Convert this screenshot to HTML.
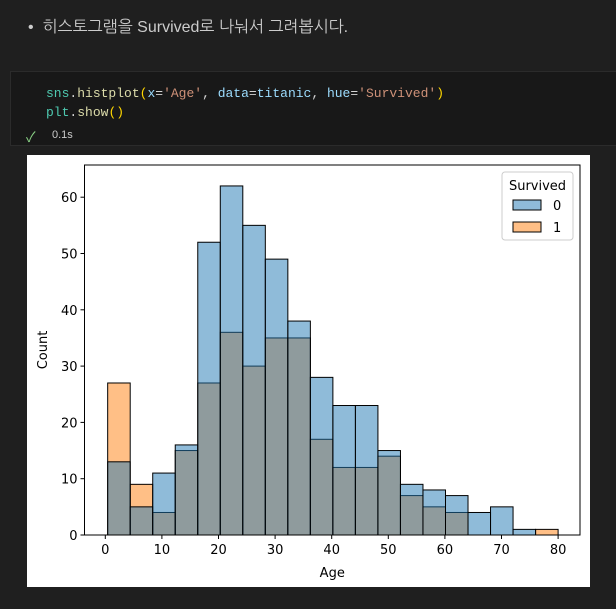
<!DOCTYPE html>
<html><head><meta charset="utf-8"><style>
body{margin:0;width:616px;height:609px;background:#1f1f1f;overflow:hidden;position:relative;font-family:"Liberation Sans","Noto Sans CJK KR",sans-serif}
.md{position:absolute;left:28px;top:17px;color:#cccccc;font-size:16px;font-family:"Liberation Sans","NanumGothic",sans-serif}
.cell{position:absolute;left:10px;top:71px;width:610px;height:75px;background:#181818;border:1px solid #2b2b2b;box-sizing:border-box}
.code{position:absolute;left:35px;font-family:"Liberation Mono",monospace;font-size:13px;color:#d4d4d4;white-space:pre}
.out{position:absolute;left:27px;top:155px;width:563px;height:432px;background:#fff}
</style></head><body>
<div class="md">•&nbsp;&nbsp;히스토그램을 Survived로 나눠서 그려봅시다.</div>
<div class="cell">
<div class="code" style="top:14px"><span style="color:#4ec9b0">sns</span>.<span style="color:#dcdcaa">histplot</span><span style="color:#ffd700">(</span><span style="color:#9cdcfe">x</span>=<span style="color:#ce9178">'Age'</span>, <span style="color:#9cdcfe">data</span>=<span style="color:#9cdcfe">titanic</span>, <span style="color:#9cdcfe">hue</span>=<span style="color:#ce9178">'Survived'</span><span style="color:#ffd700">)</span></div>
<div class="code" style="top:33px"><span style="color:#4ec9b0">plt</span>.<span style="color:#dcdcaa">show</span><span style="color:#ffd700">()</span></div>
<div style="position:absolute;left:15px;top:55px;color:#89d185;font-size:14px">✓</div>
<div style="position:absolute;left:41px;top:57px;color:#cccccc;font-size:11px">0.1s</div>
</div>
<div class="out">
<svg id="chart" width="563" height="432" xmlns="http://www.w3.org/2000/svg" font-family="DejaVu Sans, Liberation Sans, sans-serif"></svg>
</div>
<script>
const binStart = 0.42;
const binEnd = 80;
const died = [13,5,11,16,52,62,55,49,38,28,23,23,15,9,8,7,4,5,1,0];
const survived = [27,9,4,15,27,36,30,35,35,17,12,12,14,7,5,4,0,0,0,1];
const xTicks = [0,10,20,30,40,50,60,70,80];
const yTicks = [0,10,20,30,40,50,60];
const OX=27, OY=155;
const L=84.5-OX, R=580-OX, T=165-OY, B=535-OY;
const x0px=105.3-OX, xScale=5.66;
const xs = v => x0px + v*xScale;
const ys = v => B - v*5.63;
const svg=document.getElementById('chart');
const NS='http://www.w3.org/2000/svg';
function mk(tag,attrs,parent){const e=document.createElementNS(NS,tag);for(const k in attrs)e.setAttribute(k,attrs[k]);(parent||svg).appendChild(e);return e;}
const n=died.length, w=(binEnd-binStart)/n;
function drawSeries(arr,fill,name){
  arr.forEach((v,i)=>{ if(v<=0) return;
    const a=binStart+i*w, b=a+w;
    const r=mk('rect',{x:xs(a),y:ys(v),width:xs(b)-xs(a),height:ys(0)-ys(v),fill:fill,stroke:'#000','stroke-width':1});
    
    
  });
}
drawSeries(survived,'rgba(255,127,14,0.5)','survived-1');
drawSeries(died,'rgba(31,119,180,0.5)','survived-0');
const frame=mk('rect',{x:L,y:T,width:R-L,height:B-T,fill:'none',stroke:'#000','stroke-width':1});


xTicks.forEach(t=>{
  mk('line',{x1:xs(t),x2:xs(t),y1:B,y2:B+4,stroke:'#000'});
  const tx=mk('text',{x:xs(t),y:B+19,'text-anchor':'middle','font-size':13,fill:'#000'});
  tx.textContent=t;
  
  
});
yTicks.forEach(t=>{
  mk('line',{x1:L-4,x2:L,y1:ys(t),y2:ys(t),stroke:'#000'});
  const tx=mk('text',{x:L-7,y:ys(t)+5,'text-anchor':'end','font-size':13,fill:'#000'});
  tx.textContent=t;
  
  
});
const xl=mk('text',{x:(L+R)/2,y:B+42,'text-anchor':'middle','font-size':13,fill:'#000'});
xl.textContent='Age';


const yl=mk('text',{x:0,y:0,'text-anchor':'middle','font-size':13,fill:'#000',transform:'translate(20,'+((T+B)/2)+') rotate(-90)'});
yl.textContent='Count';


const lg=mk('g',{});


mk('rect',{x:502-OX,y:172-OY,width:71,height:68,rx:3,fill:'#fff',stroke:'#ccc','stroke-width':1},lg);
const lt=mk('text',{x:537.5-OX,y:190-OY,'text-anchor':'middle','font-size':13,fill:'#000'},lg);
lt.textContent='Survived';
[['0','rgba(31,119,180,0.5)',200],['1','rgba(255,127,14,0.5)',222]].forEach(([lab,c,y])=>{
  const p=mk('rect',{x:513-OX,y:y-OY,width:28,height:10,fill:c,stroke:'#000'},lg);
  
  
  const t=mk('text',{x:553-OX,y:y+10-OY,'font-size':13,fill:'#000'},lg);
  t.textContent=lab;
});
</script>
</body></html>
